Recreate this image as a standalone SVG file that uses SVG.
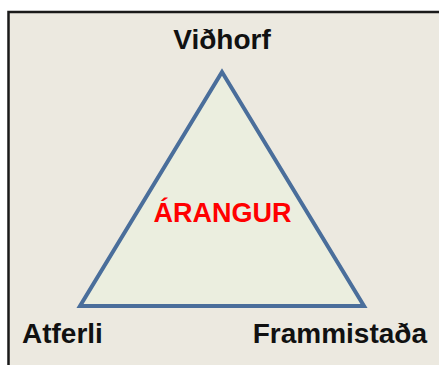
<svg xmlns="http://www.w3.org/2000/svg" width="439" height="365" viewBox="0 0 439 365">
  <style>
    .lbl { font-family: "Liberation Sans", Arial, sans-serif; font-weight: bold; font-size: 28px; fill: #111; }
    .center { font-family: "Liberation Sans", Arial, sans-serif; font-weight: bold; font-size: 27px; fill: #FF0000; }
  </style>
  <rect x="0" y="0" width="439" height="365" fill="#ffffff"/>
  <rect x="8.5" y="12" width="440" height="370" fill="#ECE9E0" stroke="#1a1a1a" stroke-width="2.5"/>
  <g id="connectors">
    <polygon id="triangle" points="222,72 80,306 364,306" fill="#EBEEDF" stroke="#4A6E9B" stroke-width="4" stroke-linejoin="miter"/>
  </g>
  <g id="node-vidhorf">
    <text class="lbl" x="222" y="49" text-anchor="middle">Viðhorf</text>
  </g>
  <g id="node-atferli">
    <text class="lbl" x="22" y="343">Atferli</text>
  </g>
  <g id="node-frammistada">
    <text class="lbl" x="427" y="343" text-anchor="end">Frammistaða</text>
  </g>
  <g id="node-arangur">
    <text class="center" x="222.5" y="222" text-anchor="middle">ÁRANGUR</text>
  </g>
</svg>
